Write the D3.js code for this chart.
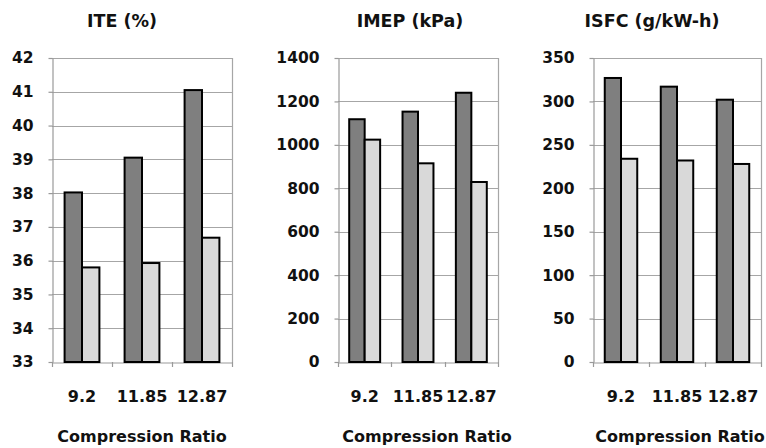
<!DOCTYPE html>
<html lang="en">
<head>
    <meta charset="UTF-8">
    <title>ITE / IMEP / ISFC vs Compression Ratio</title>
    <script src="https://d3js.org/d3.v7.min.js"></script>
    <style>
        body { margin: 0; background: #fff; }
        svg text { font-family: "DejaVu Sans", sans-serif; font-weight: bold; fill: #111; }
    </style>
</head>
<body>
<div id="chart"></div>
<script>
    // data
    const categories = ["9.2", "11.85", "12.87"];
    const iteDark = [38.02, 39.05, 41.05];
    const iteLight = [35.8, 35.93, 36.68];
    const imepDark = [1118, 1153, 1240];
    const imepLight = [1024, 915, 829];
    const isfcDark = [327, 317, 302];
    const isfcLight = [234, 232, 228];
    const iteTicks = [33, 34, 35, 36, 37, 38, 39, 40, 41, 42];
    const imepTicks = [0, 200, 400, 600, 800, 1000, 1200, 1400];
    const isfcTicks = [0, 50, 100, 150, 200, 250, 300, 350];

    const w = 766, h = 448;
    const plotTop = 58, plotBottom = 362;

    const panels = [
        { title: "ITE (%)", dark: iteDark, light: iteLight, ticks: iteTicks, x0: 52, x1: 232, titleX: 122, axisTitleX: 142 },
        { title: "IMEP (kPa)", dark: imepDark, light: imepLight, ticks: imepTicks, x0: 338, x1: 498, titleX: 410, axisTitleX: 427 },
        { title: "ISFC (g/kW-h)", dark: isfcDark, light: isfcLight, ticks: isfcTicks, x0: 593, x1: 761, titleX: 652, axisTitleX: 680 }
    ];

    const svg = d3.select("#chart").append("svg")
        .attr("width", w)
        .attr("height", h);

    panels.forEach(function(p) {
        const g = svg.append("g");
        const yScale = d3.scaleLinear()
            .domain([p.ticks[0], p.ticks[p.ticks.length - 1]])
            .range([plotBottom, plotTop]);
        const xScale = d3.scaleBand()
            .domain(categories)
            .range([p.x0, p.x1]);
        const bw = xScale.bandwidth();
        const inner = d3.scaleBand()
            .domain(["dark", "light"])
            .range([bw * 0.21, bw * 0.79]);

        // gridlines + box
        g.selectAll(".grid")
            .data(p.ticks.slice(1))
            .enter()
            .append("line")
            .attr("x1", p.x0)
            .attr("x2", p.x1)
            .attr("y1", d => Math.round(yScale(d)) + 0.5)
            .attr("y2", d => Math.round(yScale(d)) + 0.5)
            .attr("stroke", "#a6a6a6")
            .attr("stroke-width", 1.2);
        g.append("line")
            .attr("x1", p.x1 + 0.5).attr("x2", p.x1 + 0.5)
            .attr("y1", plotTop).attr("y2", plotBottom)
            .attr("stroke", "#a6a6a6")
            .attr("stroke-width", 1.2);

        // y axis
        const yAxis = d3.axisLeft(yScale)
            .tickValues(p.ticks)
            .tickFormat(d3.format("d"))
            .tickSize(4)
            .tickPadding(15)
            .tickSizeOuter(0);
        const ya = g.append("g")
            .attr("transform", "translate(" + (p.x0 + 0.5) + ",0)")
            .call(yAxis);
        ya.selectAll("path, line").attr("stroke", "#999").attr("stroke-width", 1.2);
        ya.selectAll("text").style("font-size", "15.5px");

        // x axis
        const xAxis = d3.axisBottom(xScale)
            .tickSize(0)
            .tickPadding(28)
            .tickSizeOuter(0);
        const xa = g.append("g")
            .attr("transform", "translate(0," + (plotBottom + 0.5) + ")")
            .call(xAxis);
        xa.select("path").attr("stroke", "#999").attr("stroke-width", 1.2);
        xa.selectAll("text").style("font-size", "16px");

        // boundary tick marks under the x axis
        const bounds = categories.map(c => xScale(c)).concat([p.x1]);
        g.selectAll(".xtick")
            .data(bounds)
            .enter()
            .append("line")
            .attr("x1", d => Math.round(d) + 0.5)
            .attr("x2", d => Math.round(d) + 0.5)
            .attr("y1", plotBottom)
            .attr("y2", plotBottom + 5)
            .attr("stroke", "#999")
            .attr("stroke-width", 1.2);

        // bars
        const rows = [];
        categories.forEach(function(c, i) {
            rows.push({ cat: c, key: "dark", v: p.dark[i] });
            rows.push({ cat: c, key: "light", v: p.light[i] });
        });
        g.selectAll(".bar")
            .data(rows)
            .enter()
            .append("rect")
            .attr("x", d => xScale(d.cat) + inner(d.key))
            .attr("y", d => yScale(d.v))
            .attr("width", inner.bandwidth())
            .attr("height", d => plotBottom - yScale(d.v))
            .attr("fill", d => d.key === "dark" ? "#7f7f7f" : "#d9d9d9")
            .attr("stroke", "#000")
            .attr("stroke-width", 2);

        // titles
        g.append("text")
            .attr("x", p.titleX)
            .attr("y", 27)
            .attr("text-anchor", "middle")
            .style("font-size", "17.5px")
            .text(p.title);
        g.append("text")
            .attr("x", p.axisTitleX)
            .attr("y", 442)
            .attr("text-anchor", "middle")
            .style("font-size", "16px")
            .text("Compression Ratio");
    });
</script>
</body>
</html>
